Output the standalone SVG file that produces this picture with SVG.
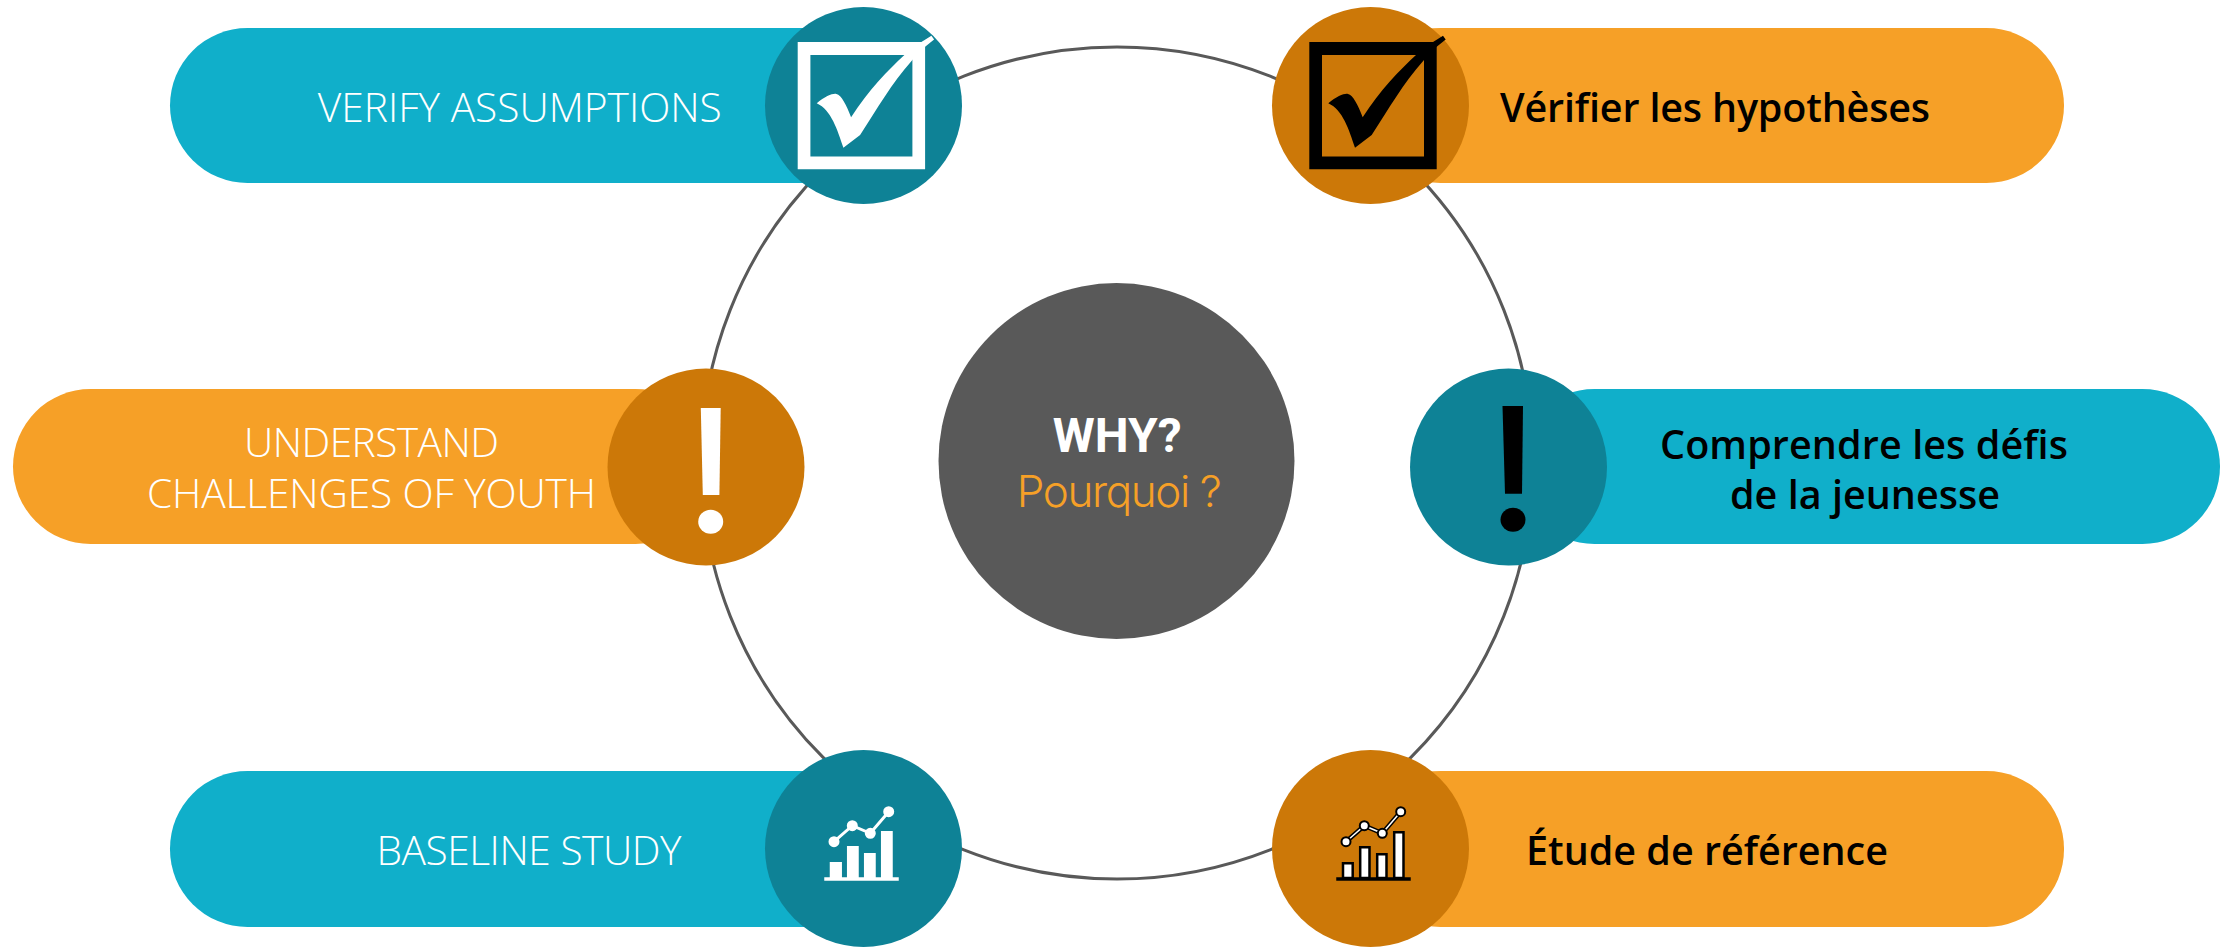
<svg xmlns="http://www.w3.org/2000/svg" width="2236" height="949" viewBox="0 0 2236 949">
<defs>
<style>
.teal{fill:#10AFCA}.dteal{fill:#0E8296}.org{fill:#F6A027}.dorg{fill:#CC7808}
.lt{font-family:"Open Sans","Liberation Sans",sans-serif;font-weight:300;font-size:40.7px;fill:#fff;text-anchor:middle}
.fr{font-family:"Open Sans","Liberation Sans",sans-serif;font-weight:600;font-size:39.5px;fill:#000;text-anchor:middle}
</style>
<g id="chk">
<path fill-rule="evenodd" d="M1309.3 42H1436.7V169.3H1309.3ZM1322 55V156.5H1424V55Z"/>
<path d="M1328.3 103.3C1337 96 1345 93 1348 94C1353 95 1358 105 1362.7 117.3C1380 90 1400 70 1416 55L1433 42L1443 35.7L1445.7 39.5L1436.7 46.7L1424 60C1402 85 1390 107 1371.7 135L1355 147.7C1349 130 1343 110 1328.3 103.3Z"/>
</g>
<path id="barshapes" stroke-width="2.5" d="M1343 878V863.2H1352.7V878ZM1360.2 878V847.2H1369.5V878ZM1377.2 878V854.2H1386.5V878ZM1394.2 878V832.2H1403.5V878ZM1337.5 878.4H1409.5V879.4H1337.5Z"/>
<path id="barline" fill="none" d="M1346 841.7L1364.3 825.7L1382.3 833.3L1400.7 811.7"/>
<g id="bardots" stroke-width="2">
<circle cx="1346" cy="841.7" r="4.5"/><circle cx="1364.3" cy="825.7" r="4.5"/><circle cx="1382.3" cy="833.3" r="4.5"/><circle cx="1400.7" cy="811.7" r="4.5"/>
</g>
</defs>
<rect width="2236" height="949" fill="#fff"/>
<g id="connectors"><circle cx="1117" cy="463" r="416" fill="none" stroke="#595959" stroke-width="3"/></g>
<g id="center">
<circle cx="1116.5" cy="461" r="178" fill="#595959"/>
<text x="1117.2" y="451.7" text-anchor="middle" font-family="Roboto,'Liberation Sans',sans-serif" font-weight="700" font-size="48" textLength="129" fill="#fff">WHY?</text>
<text x="1119.3" y="507" text-anchor="middle" font-family="Inter,'Liberation Sans',sans-serif" font-weight="300" font-size="44" textLength="205" fill="#F6A027">Pourquoi ?</text>
</g>
<g id="verify-en">
<rect class="teal" x="170" y="28" width="710" height="155" rx="77.5"/>
<circle class="dteal" cx="863.5" cy="105.5" r="98.5"/>
<text class="lt" x="519.8" y="122" textLength="404">VERIFY ASSUMPTIONS</text>
<use href="#chk" x="-511.6" fill="#fff"/>
</g>
<g id="verify-fr">
<rect class="org" x="1363" y="28" width="701" height="155" rx="77.5"/>
<circle class="dorg" cx="1370.5" cy="105.5" r="98.5"/>
<text class="fr" x="1715" y="122" textLength="430">Vérifier les hypothèses</text>
<use href="#chk" fill="#000"/>
</g>
<g id="challenges-en">
<rect class="org" x="13" y="389" width="700" height="155" rx="77.5"/>
<circle class="dorg" cx="706" cy="467" r="98.5"/>
<text class="lt" x="371.5" y="457" textLength="255">UNDERSTAND</text>
<text class="lt" x="371.5" y="508" textLength="449">CHALLENGES OF YOUTH</text>
<path d="M700.8 408H720.7L719.4 495H702.8Z" fill="#fff"/><ellipse cx="710.7" cy="521.7" rx="12.5" ry="12" fill="#fff"/>
</g>
<g id="challenges-fr">
<rect class="teal" x="1517" y="389" width="703" height="155" rx="77.5"/>
<circle class="dteal" cx="1508.5" cy="467" r="98.5"/>
<text class="fr" x="1864" y="458.5" textLength="408">Comprendre les défis</text>
<text class="fr" x="1865" y="508.5" textLength="270">de la jeunesse</text>
<path d="M1502.5 406H1523L1522 493.7H1505Z"/><ellipse cx="1513" cy="519.7" rx="12.5" ry="12"/>
</g>
<g id="baseline-en">
<rect class="teal" x="170" y="771" width="710" height="156" rx="77.5"/>
<circle class="dteal" cx="863.5" cy="848.5" r="98.5"/>
<text class="lt" x="529" y="865" textLength="305">BASELINE STUDY</text>
<use href="#barshapes" x="-512" fill="#fff" stroke="#fff"/>
<use href="#barline" x="-512" stroke="#fff" stroke-width="3"/>
<use href="#bardots" x="-512" fill="#fff" stroke="#fff"/>
</g>
<g id="baseline-fr">
<rect class="org" x="1363" y="771" width="701" height="156" rx="77.5"/>
<circle class="dorg" cx="1370.5" cy="848.5" r="98.5"/>
<text class="fr" x="1707" y="865" textLength="362">Étude de référence</text>
<use href="#barshapes" fill="#fff" stroke="#000"/>
<use href="#barline" stroke="#000" stroke-width="4.5"/>
<use href="#barline" stroke="#fff" stroke-width="1.5"/>
<use href="#bardots" fill="#fff" stroke="#000"/>
</g>
</svg>
